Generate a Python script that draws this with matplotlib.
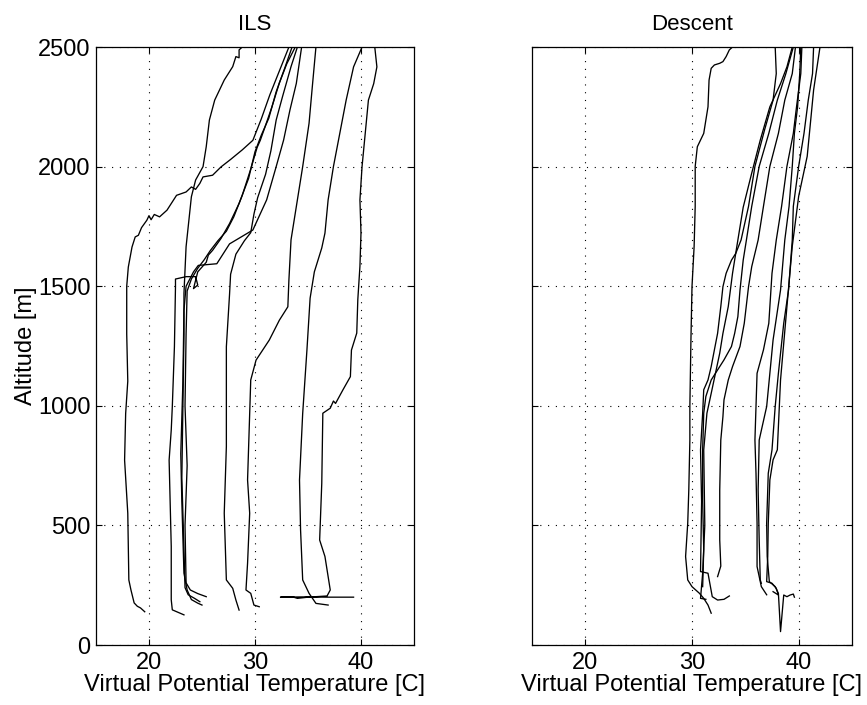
import matplotlib
matplotlib.use("Agg")
import matplotlib.pyplot as plt

# ILS profiles: (virtual potential temperature [C], altitude [m])
ils_a = [(19.6, 139), (19.2, 155), (18.9, 162), (18.6, 176), (18.3, 230), (18.1, 272),
         (18.0, 551), (17.7, 773), (17.8, 968), (18.0, 1103), (17.9, 1300), (17.9, 1500),
         (18.05, 1580), (18.4, 1664), (18.7, 1706), (19.0, 1713), (19.3, 1745), (19.8, 1776),
         (20.0, 1795), (20.2, 1778), (20.5, 1800), (21.0, 1790), (21.7, 1818), (22.6, 1880),
         (23.5, 1894), (24.0, 1915), (24.4, 1905), (24.8, 1930), (25.1, 1957), (26.0, 1964),
         (26.8, 1999), (27.7, 2030), (28.8, 2070), (29.8, 2110), (30.6, 2200), (31.4, 2300),
         (32.3, 2400), (33.2, 2500)]
ils_b = [(24.8, 181), (24.3, 195), (23.7, 210), (23.4, 240), (23.3, 400), (23.1, 700),
         (23.2, 1000), (23.3, 1300), (23.3, 1470), (23.5, 1665), (24.0, 1874), (24.4, 1944),
         (25.1, 2000), (25.4, 2083), (25.7, 2195), (26.2, 2278), (27.1, 2362), (27.9, 2418),
         (28.2, 2460), (28.5, 2455), (28.5, 2488), (28.8, 2500)]
ils_c = [(23.3, 126), (22.2, 147), (22.1, 189), (22.1, 412), (21.9, 773), (22.1, 899),
         (22.2, 996), (22.4, 1247), (22.5, 1498), (22.5, 1530), (23.5, 1540), (24.4, 1540),
         (24.6, 1505), (24.2, 1490), (24.6, 1560), (25.4, 1600), (25.6, 1630), (26.0, 1650),
         (26.8, 1700), (27.6, 1762), (28.5, 1846), (29.4, 1951), (30.0, 2062), (30.6, 2132),
         (31.3, 2202), (32.0, 2313), (32.8, 2411), (33.5, 2500)]
ils_d = [(25.4, 202), (24.6, 215), (23.9, 230), (23.5, 260), (23.4, 500), (23.6, 750),
         (23.4, 1000), (23.5, 1300), (23.6, 1480), (24.0, 1530), (24.6, 1575), (25.2, 1610),
         (25.8, 1650), (26.5, 1690), (27.3, 1730), (28.0, 1790), (28.8, 1880), (29.6, 1990),
         (30.2, 2080), (30.5, 2110), (30.9, 2160), (31.6, 2250), (32.3, 2350), (33.0, 2430),
         (33.8, 2500)]
ils_e = [(25.0, 167), (24.6, 175), (24.0, 190), (23.6, 230), (23.3, 300), (23.1, 600),
         (23.0, 800), (23.2, 1100), (23.3, 1400), (23.5, 1500), (24.2, 1560), (24.65, 1587),
         (26.4, 1594), (27.6, 1677), (29.8, 1735), (31.1, 1861), (32.0, 2000), (32.7, 2111),
         (33.3, 2237), (33.9, 2348), (34.4, 2500)]
ils_f = [(28.5, 146), (28.2, 188), (27.9, 237), (27.3, 272), (27.1, 551), (27.3, 830),
         (27.3, 1247), (27.6, 1466), (27.7, 1550), (28.2, 1634), (29.0, 1690), (29.6, 1724),
         (29.9, 1801), (30.25, 1870), (31.0, 1968), (31.5, 2066), (32.0, 2195), (32.6, 2293),
         (33.4, 2418), (34.0, 2500)]
ils_g = [(30.4, 160), (29.9, 167), (29.6, 216), (29.15, 230), (29.3, 342), (29.5, 551),
         (29.3, 690), (29.5, 968), (29.6, 1108), (30.1, 1191), (31.35, 1275), (32.3, 1358),
         (33.1, 1414), (33.2, 1526), (33.4, 1694), (33.9, 1833), (34.5, 2000), (35.1, 2181),
         (35.4, 2330), (35.75, 2500)]
ils_h = [(36.9, 167), (35.75, 174), (35.1, 216), (34.5, 272), (34.3, 481), (34.2, 690),
         (34.5, 968), (34.9, 1233), (35.2, 1450), (35.6, 1560), (36.3, 1660), (36.6, 1722),
         (36.9, 1861), (37.4, 2000), (38.0, 2139), (38.6, 2278), (39.3, 2417), (40.1, 2500)]
ils_i = [(41.3, 2500), (41.5, 2417), (41.2, 2347), (40.7, 2278), (40.4, 2139), (40.1, 2000),
         (39.9, 1861), (40.0, 1722), (39.9, 1583), (39.7, 1444), (39.6, 1304), (39.1, 1233),
         (39.0, 1122), (38.3, 1067), (37.6, 1010), (37.4, 1020), (37.1, 990), (36.4, 969),
         (36.3, 676), (36.1, 439), (36.6, 370), (37.1, 230), (36.8, 205), (35.0, 200),
         (34.0, 195), (33.5, 202), (32.4, 200), (34.5, 201), (37.0, 200), (39.3, 200)]

# Descent profiles
dsc_a = [(31.8, 133), (31.5, 167), (31.1, 195), (30.7, 216), (30.0, 244), (29.6, 272),
         (29.4, 370), (29.6, 509), (29.7, 648), (29.8, 857), (29.8, 997), (29.9, 1275),
         (30.0, 1498), (30.2, 1667), (30.3, 1834), (30.3, 2001), (30.5, 2083), (30.8, 2111),
         (31.1, 2139), (31.5, 2250), (31.6, 2362), (31.8, 2411), (32.1, 2425), (32.6, 2432),
         (32.9, 2439), (33.2, 2460), (33.5, 2488), (33.8, 2500)]
dsc_b = [(33.5, 205), (33.0, 191), (32.4, 188), (31.9, 202), (31.5, 300), (30.8, 307),
         (30.9, 600), (30.8, 816), (31.0, 969), (31.1, 1067), (31.5, 1108), (31.8, 1164),
         (32.1, 1234), (32.4, 1303), (32.7, 1415), (32.9, 1498), (33.2, 1554), (33.7, 1609),
         (34.1, 1637), (34.6, 1693), (35.3, 1834), (35.9, 2001), (36.8, 2153), (37.6, 2278),
         (37.9, 2389), (37.8, 2500)]
dsc_c = [(31.0, 244), (31.1, 400), (31.0, 600), (31.0, 816), (31.1, 969), (31.3, 1039),
         (31.8, 1108), (32.4, 1150), (33.0, 1192), (33.7, 1248), (34.0, 1303), (34.3, 1373),
         (34.5, 1484), (34.8, 1609), (35.1, 1693), (35.6, 1834), (36.3, 2001), (37.2, 2139),
         (38.0, 2278), (38.8, 2389), (39.5, 2500)]
dsc_d = [(31.3, 191), (30.8, 195), (31.0, 300), (31.2, 500), (31.1, 816), (31.4, 969),
         (31.8, 1052), (32.2, 1136), (32.6, 1220), (32.9, 1303), (33.4, 1415), (33.8, 1554),
         (34.3, 1693), (34.8, 1830), (35.6, 1973), (36.4, 2111), (37.3, 2250), (38.3, 2347),
         (38.9, 2417), (39.4, 2500)]
dsc_e = [(32.4, 286), (32.7, 330), (32.6, 439), (32.6, 648), (32.7, 857), (32.9, 955),
         (33.0, 1025), (33.4, 1108), (33.8, 1164), (34.5, 1248), (34.9, 1345), (35.3, 1498),
         (35.6, 1582), (36.2, 1693), (36.7, 1834), (37.3, 2001), (38.1, 2139), (38.7, 2278),
         (39.4, 2389), (39.7, 2500)]
dsc_f = [(37.0, 210), (36.5, 244), (36.1, 328), (36.1, 509), (36.0, 718), (35.9, 857),
         (36.0, 997), (36.1, 1136), (36.7, 1234), (37.2, 1345), (37.5, 1554), (37.9, 1693),
         (38.4, 1834), (38.9, 2001), (39.5, 2139), (39.8, 2250), (40.2, 2389), (40.3, 2500)]
dsc_g = [(36.5, 258), (36.4, 272), (36.3, 439), (36.2, 648), (36.3, 857), (37.0, 997),
         (37.3, 1136), (37.6, 1275), (38.3, 1484), (38.7, 1693), (39.1, 1834), (39.4, 2001),
         (39.6, 2139), (39.9, 2250), (40.1, 2389), (40.2, 2500)]
dsc_h = [(39.6, 200), (39.5, 213), (39.2, 209), (38.9, 202), (38.6, 209), (38.3, 56),
         (38.1, 216), (37.8, 244), (37.25, 265), (37.05, 370), (37.0, 509), (37.15, 718),
         (37.5, 816), (37.8, 997), (38.1, 1136), (38.6, 1345), (39.05, 1484), (39.4, 1693),
         (39.5, 1834), (40.0, 2001), (40.5, 2139), (40.9, 2278), (41.3, 2389), (41.4, 2500)]
dsc_i = [(37.6, 223), (38.1, 209), (37.9, 237), (37.5, 258), (37.0, 265), (37.1, 370),
         (37.15, 509), (37.3, 690), (37.6, 774), (38.0, 816), (38.3, 1108), (38.9, 1415),
         (39.4, 1667), (40.0, 1876), (40.8, 2043), (41.1, 2181), (41.4, 2320), (42.0, 2500)]

ils_profiles = [ils_a, ils_b, ils_c, ils_d, ils_e, ils_f, ils_g, ils_h, ils_i]
descent_profiles = [dsc_a, dsc_b, dsc_c, dsc_d, dsc_e, dsc_f, dsc_g, dsc_h, dsc_i]

x_ticks = [20, 30, 40]
y_ticks = [0, 500, 1000, 1500, 2000, 2500]

plt.rcParams['font.family'] = ['Liberation Sans', 'DejaVu Sans']

fig = plt.figure(figsize=(8.67, 7.05), dpi=100)
ax1 = fig.add_axes([0.1107, 0.0851, 0.3668, 0.8482])
ax2 = fig.add_axes([0.6136, 0.0851, 0.3691, 0.8482])

for ax, profiles, title in [(ax1, ils_profiles, 'ILS'), (ax2, descent_profiles, 'Descent')]:
    for prof in profiles:
        t = [p[0] for p in prof]
        z = [p[1] for p in prof]
        ax.plot(t, z, color='black', linewidth=0.95)
    ax.set_xlim(15, 45)
    ax.set_ylim(0, 2500)
    ax.set_xticks(x_ticks)
    ax.set_yticks(y_ticks)
    ax.grid(True, color='black', linestyle=(0, (1, 6)), linewidth=0.8)
    ax.tick_params(direction='in', length=4.5, width=0.8, top=True, right=True,
                   labelsize=17, pad=4)
    ax.tick_params(axis='x', pad=5)
    for s in ax.spines.values():
        s.set_linewidth(0.9)
    ax.set_title(title, fontsize=16, pad=12)
    ax.set_xlabel('Virtual Potential Temperature [C]', fontsize=17, labelpad=0)

ax1.set_ylabel('Altitude [m]', fontsize=17, labelpad=1)
ax2.set_yticklabels([])

fig.savefig('out.png', dpi=100)
